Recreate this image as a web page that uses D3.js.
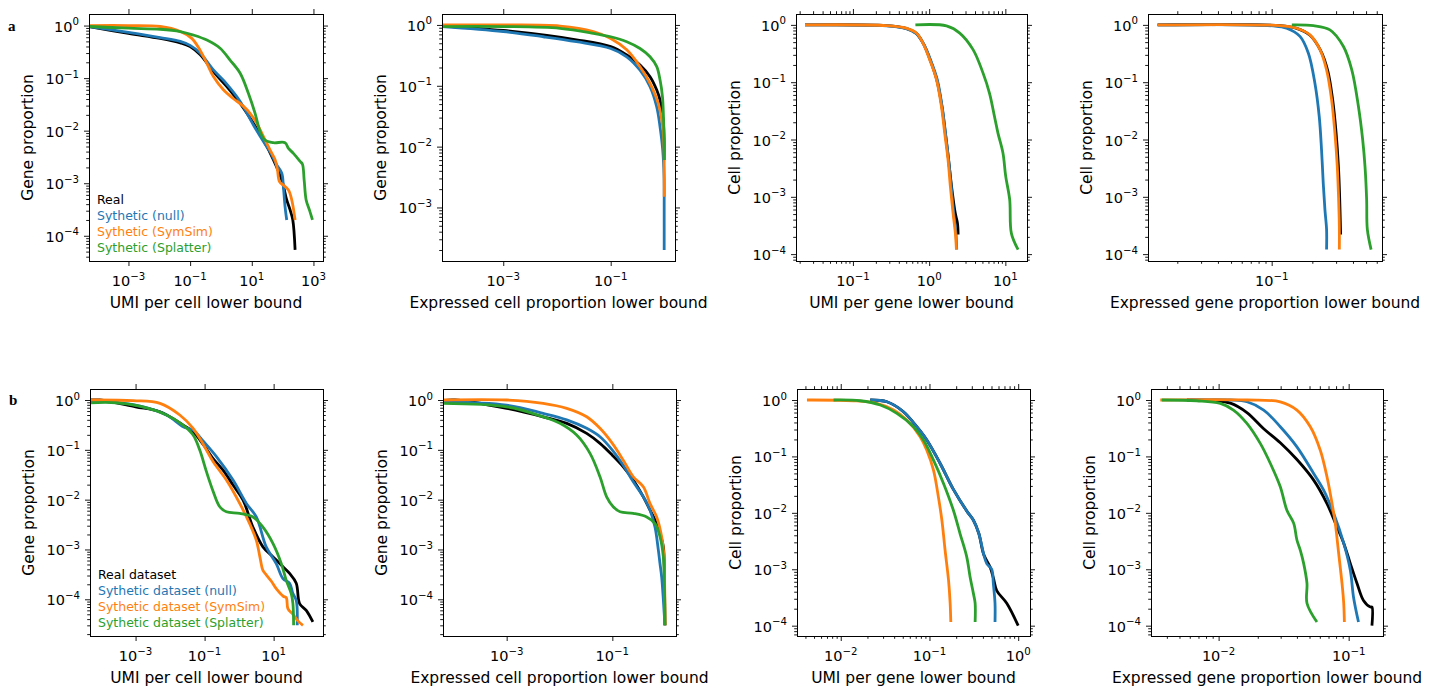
<!DOCTYPE html>
<html>
<head>
<meta charset="utf-8">
<script src="https://cdn.jsdelivr.net/npm/d3@7"></script>
<style>
body { margin: 0; background: #fff; }
text { font-family: "DejaVu Sans", sans-serif; fill: #000; }
</style>
</head>
<body>
<svg id="fig" width="1442" height="692"></svg>
<script>
const COLORS = ["#000000", "#1f77b4", "#ff7f0e", "#2ca02c"];
const legendA = ["Real", "Sythetic (null)", "Sythetic (SymSim)", "Sythetic (Splatter)"];
const legendB = ["Real dataset", "Sythetic dataset (null)", "Sythetic dataset (SymSim)", "Sythetic dataset (Splatter)"];

// row a, UMI per cell
const a1Real = [[5.2e-5,0.96],[1e-3,0.71],[0.0107,0.57],[0.048,0.47],[0.1,0.40],[0.21,0.28],[0.57,0.133],[1.55,0.069],[4.2,0.033],[11.3,0.0138],[23.9,0.0066],[50,0.0028],[94,0.00115],[136,0.00048],[175,0.00031],[214,0.0002],[254,5.4e-5]];
const a1Null = [[5.2e-5,0.96],[1e-3,0.74],[0.0107,0.59],[0.048,0.50],[0.1,0.42],[0.21,0.30],[0.57,0.143],[1.55,0.077],[4.2,0.036],[11.3,0.0128],[23.9,0.0062],[39,0.004],[65,0.0022],[94,0.00155],[106,0.00085],[120,0.00036],[136,0.0002]];
const a1SymSim = [[5.2e-5,1.0],[1e-3,1.0],[0.0107,0.96],[0.048,0.77],[0.113,0.57],[0.21,0.34],[0.35,0.19],[0.57,0.107],[1.2,0.06],[2.5,0.041],[5.4,0.029],[8.8,0.0214],[14.5,0.0138],[23.9,0.0077],[39,0.0043],[57,0.0028],[68,0.0018],[79,0.00107],[106,0.00092],[155,0.00074],[198,0.00048],[254,0.0002]];
const a1Splatter = [[5.2e-5,0.96],[1e-3,0.89],[0.0107,0.85],[0.048,0.77],[0.128,0.66],[0.35,0.53],[0.94,0.37],[1.98,0.22],[4.2,0.124],[7.8,0.051],[12.8,0.0214],[18.6,0.0096],[27,0.0066],[50,0.0059],[120,0.0059],[155,0.0046],[224,0.0037],[370,0.0026],[440,0.0023],[500,0.00115],[580,0.00048],[740,0.00031],[930,0.0002]];

// row a, expressed cell proportion
const a2Real = [[7.2e-5,0.96],[1e-3,0.81],[0.023,0.57],[0.1,0.44],[0.199,0.32],[0.352,0.22],[0.54,0.141],[0.72,0.085],[0.83,0.058],[0.89,0.04],[0.96,0.024],[0.985,0.0128],[0.99,0.006]];
const a2Null = [[7.2e-5,0.94],[1e-3,0.78],[0.0056,0.64],[0.023,0.53],[0.1,0.41],[0.199,0.30],[0.352,0.18],[0.54,0.097],[0.72,0.045],[0.83,0.021],[0.93,0.0088],[0.985,0.0032],[0.99,0.00102],[0.99,0.0002]];
const a2SymSim = [[7.2e-5,1.0],[1e-3,1.0],[0.0114,0.96],[0.0475,0.78],[0.1,0.60],[0.199,0.39],[0.352,0.206],[0.54,0.11],[0.77,0.051],[0.93,0.021],[0.985,0.0088],[0.99,0.0047],[0.99,0.0015]];
const a2Splatter = [[7.2e-5,0.94],[1e-3,0.94],[0.0114,0.88],[0.0475,0.73],[0.1,0.64],[0.199,0.53],[0.352,0.41],[0.54,0.30],[0.72,0.206],[0.83,0.124],[0.92,0.066],[0.96,0.031],[0.985,0.0128],[0.99,0.006]];

// row a, UMI per gene
const a3Real = [[0.0235,1.0],[0.276,0.97],[0.50,0.87],[0.68,0.71],[0.84,0.47],[1.03,0.245],[1.26,0.11],[1.47,0.0376],[1.63,0.0129],[1.80,0.0044],[1.97,0.0015],[2.2,0.00052],[2.35,0.00035],[2.40,0.00022]];
const a3Null = [[0.0235,1.0],[0.276,0.96],[0.50,0.86],[0.68,0.70],[0.85,0.46],[1.05,0.24],[1.28,0.11],[1.48,0.0376],[1.64,0.0129],[1.80,0.0044],[1.95,0.0015],[2.1,0.00052],[2.25,0.00023],[2.3,0.00012]];
const a3SymSim = [[0.0235,1.0],[0.276,0.97],[0.50,0.875],[0.68,0.72],[0.83,0.48],[1.02,0.245],[1.25,0.11],[1.45,0.0376],[1.60,0.0129],[1.77,0.0044],[1.90,0.0015],[2.06,0.00052],[2.21,0.00023],[2.28,0.00012]];
const a3Splatter = [[0.66,1.0],[1.69,0.96],[2.52,0.72],[3.77,0.37],[5.1,0.144],[6.2,0.064],[7.2,0.0252],[8.0,0.0129],[9.3,0.0058],[10.1,0.0023],[11.4,0.00089],[12.0,0.00023],[14.7,0.00012]];

// row a, expressed gene proportion
const a4Real = [[0.0143,1.0],[0.115,0.97],[0.153,0.87],[0.192,0.66],[0.23,0.36],[0.26,0.16],[0.283,0.049],[0.3,0.0129],[0.312,0.0034],[0.318,0.00116],[0.324,0.00022]];
const a4Null = [[0.0143,1.0],[0.103,0.96],[0.129,0.875],[0.162,0.63],[0.187,0.32],[0.209,0.096],[0.225,0.0252],[0.234,0.0066],[0.241,0.0017],[0.248,0.00059],[0.255,0.00027],[0.255,0.00012]];
const a4SymSim = [[0.0143,1.0],[0.115,0.97],[0.153,0.875],[0.192,0.67],[0.228,0.37],[0.255,0.164],[0.278,0.049],[0.294,0.0129],[0.306,0.0034],[0.312,0.00116],[0.317,0.0003],[0.317,0.00012]];
const a4Splatter = [[0.141,1.0],[0.204,0.97],[0.27,0.82],[0.34,0.42],[0.392,0.164],[0.439,0.0376],[0.472,0.0099],[0.491,0.0034],[0.505,0.00089],[0.511,0.00027],[0.545,0.00012]];

// row b, UMI per cell
const b1Real = [[4.8e-5,1.0],[9.3e-5,1.0],[1e-3,0.73],[5.1e-3,0.58],[0.0239,0.314],[0.0465,0.231],[0.0946,0.124],[0.176,0.067],[0.343,0.039],[0.667,0.0196],[1.30,0.0098],[2.52,0.0028],[4.9,0.00113],[9.6,0.00071],[18.6,0.00045],[29,0.00033],[45.2,0.00021],[56.5,8.2e-5],[88,6.0e-5],[137,3.5e-5]];
const b1Null = [[4.8e-5,0.97],[1e-3,0.79],[7.9e-3,0.50],[0.0239,0.291],[0.0465,0.249],[0.0946,0.145],[0.22,0.073],[0.667,0.0247],[1.62,0.0084],[3.15,0.0045],[6.1,0.00113],[11.9,0.00052],[18.6,0.00026],[29,0.00021],[36.2,0.00013],[45.2,9.5e-5],[48.3,3.0e-5]];
const b1SymSim = [[4.8e-5,1.0],[8.6e-4,0.97],[5.1e-3,0.857],[0.0191,0.50],[0.0465,0.27],[0.0946,0.124],[0.176,0.058],[0.428,0.0247],[1.04,0.0084],[2.02,0.0033],[3.15,0.00153],[4.0,0.00071],[4.9,0.00038],[6.1,0.00031],[8.6,0.00023],[11.9,0.000163],[19,0.000115],[23.2,0.000108],[25.9,6.5e-5],[36.2,5e-5],[52,3.6e-5],[70.5,3.0e-5]];
const b1Splatter = [[4.8e-5,0.88],[2.8e-4,0.88],[1.33e-3,0.75],[7.9e-3,0.50],[0.0239,0.314],[0.0465,0.198],[0.0724,0.099],[0.113,0.0365],[0.176,0.0148],[0.275,0.0072],[0.428,0.0057],[1.04,0.0053],[2.52,0.0045],[4.9,0.0028],[9.6,0.00131],[16.7,0.00052],[23.2,0.00024],[32.4,0.00013],[36.2,8.2e-5],[37.9,3.0e-5]];

// row b, expressed cell proportion
const b2Real = [[6.2e-5,0.97],[1.05e-4,1.0],[1e-3,0.68],[4.9e-3,0.46],[0.0137,0.34],[0.0327,0.214],[0.0584,0.135],[0.1,0.078],[0.161,0.0457],[0.249,0.0247],[0.386,0.0114],[0.516,0.0062],[0.643,0.0039],[0.798,0.0021],[0.923,0.00113],[0.96,0.00052],[0.98,8.2e-5],[0.99,3.0e-5]];
const b2Null = [[6.2e-5,0.93],[1e-3,0.79],[4.9e-3,0.54],[0.0137,0.40],[0.0327,0.27],[0.0584,0.183],[0.1,0.099],[0.161,0.049],[0.249,0.0228],[0.386,0.0114],[0.516,0.0062],[0.643,0.0028],[0.743,0.00097],[0.798,0.00052],[0.859,0.00028],[0.99,3.0e-5]];
const b2SymSim = [[6.2e-5,1.0],[1e-3,1.0],[4.9e-3,0.857],[0.0137,0.68],[0.0327,0.46],[0.0584,0.27],[0.1,0.135],[0.161,0.062],[0.249,0.0288],[0.386,0.0181],[0.516,0.0084],[0.69,0.0045],[0.859,0.0018],[0.95,0.00071],[0.98,0.000177],[1.0,3.0e-5]];
const b2Splatter = [[6.2e-5,0.857],[1e-3,0.73],[4.9e-3,0.46],[0.0102,0.34],[0.0211,0.198],[0.0378,0.085],[0.0584,0.0288],[0.078,0.0114],[0.104,0.0072],[0.14,0.0057],[0.249,0.0053],[0.447,0.0045],[0.643,0.0033],[0.798,0.0018],[0.923,0.00071],[0.964,0.00021],[0.993,3.0e-5]];

// row b, UMI per gene
const b3Real = [[0.0215,1.0],[0.0331,0.93],[0.0509,0.62],[0.0719,0.336],[0.0933,0.195],[0.132,0.075],[0.186,0.026],[0.263,0.0108],[0.313,0.0074],[0.36,0.0043],[0.41,0.0018],[0.482,0.0011],[0.525,0.0007],[0.573,0.00042],[0.743,0.00025],[1.0,0.0001]];
const b3Null = [[0.0215,1.0],[0.0331,0.93],[0.0509,0.62],[0.0719,0.336],[0.0933,0.195],[0.132,0.075],[0.186,0.026],[0.263,0.0108],[0.313,0.0074],[0.36,0.0043],[0.41,0.0018],[0.442,0.00126],[0.503,0.001],[0.525,0.00055],[0.548,0.00025],[0.548,0.000116]];
const b3SymSim = [[0.00416,1.0],[0.0139,0.97],[0.0255,0.873],[0.0394,0.664],[0.0556,0.44],[0.0785,0.223],[0.0933,0.129],[0.111,0.0572],[0.126,0.0192],[0.138,0.0074],[0.15,0.00217],[0.164,0.00064],[0.171,0.00025],[0.174,0.000116]];
const b3Splatter = [[0.0083,1.0],[0.0166,0.97],[0.0279,0.815],[0.0429,0.58],[0.066,0.336],[0.0856,0.195],[0.111,0.086],[0.144,0.0332],[0.186,0.0111],[0.221,0.0043],[0.263,0.00166],[0.287,0.00073],[0.313,0.00037],[0.327,0.00025],[0.327,0.000116]];

// row b, expressed gene proportion
const b4Real = [[0.0057,1.0],[0.00916,0.97],[0.0123,0.88],[0.0165,0.6],[0.0222,0.31],[0.0298,0.175],[0.040,0.088],[0.0538,0.038],[0.0681,0.0146],[0.0813,0.0056],[0.0916,0.0029],[0.103,0.00126],[0.116,0.00056],[0.13,0.00028],[0.147,0.000214],[0.151,0.000214],[0.151,0.0001]];
const b4Null = [[0.00605,1.0],[0.0123,1.0],[0.0165,0.93],[0.0222,0.664],[0.0298,0.336],[0.040,0.148],[0.0538,0.0499],[0.0642,0.0253],[0.0767,0.0097],[0.0916,0.0029],[0.103,0.00096],[0.109,0.00032],[0.119,0.000116]];
const b4SymSim = [[0.00356,1.0],[0.0165,1.0],[0.0298,0.93],[0.040,0.664],[0.0507,0.336],[0.0605,0.129],[0.0681,0.0436],[0.0745,0.0146],[0.0789,0.0065],[0.0838,0.0019],[0.0889,0.00056],[0.0916,0.00025],[0.0927,0.000116]];
const b4Splatter = [[0.00366,1.0],[0.0068,0.97],[0.0103,0.873],[0.013,0.664],[0.0165,0.385],[0.0209,0.17],[0.025,0.075],[0.0298,0.029],[0.0335,0.0111],[0.0378,0.0065],[0.040,0.0033],[0.0425,0.00217],[0.0451,0.00126],[0.0478,0.00056],[0.0478,0.00025],[0.057,0.000116]];

// tick labels
const xTicksWide = [1e-3, 1e-1, 1e1, 1e3];
const xTicksProp = [1e-3, 1e-1];
const xTicksA3 = [1e-1, 1e0, 1e1];
const xTicksA4 = [1e-1];
const xTicksB3 = [1e-2, 1e-1, 1e0];
const xTicksB4 = [1e-2, 1e-1];
const yTicks4 = [1e0, 1e-1, 1e-2, 1e-3, 1e-4];
const yTicks3 = [1e0, 1e-1, 1e-2, 1e-3];

const panels = [
    { box: [89, 14, 234, 247], xDomain: [10 ** -4.28, 10 ** 3.31], yDomain: [10 ** -4.48, 10 ** 0.22],
      xMajor: xTicksWide, xMinor: false, yMajor: yTicks4, xLabel: "UMI per cell lower bound", yLabel: "Gene proportion",
      series: [a1Real, a1Null, a1SymSim, a1Splatter], legend: legendA },
    { box: [442, 14, 233, 247], xDomain: [10 ** -4.14, 10 ** 0.197], yDomain: [10 ** -3.88, 10 ** 0.18],
      xMajor: xTicksProp, xMinor: false, yMajor: yTicks3, xLabel: "Expressed cell proportion lower bound", yLabel: "Gene proportion",
      series: [a2Real, a2Null, a2SymSim, a2Splatter] },
    { box: [796, 14, 231, 247], xDomain: [10 ** -1.747, 10 ** 1.284], yDomain: [10 ** -4.12, 10 ** 0.19],
      xMajor: xTicksA3, xMinor: true, yMajor: yTicks4, xLabel: "UMI per gene lower bound", yLabel: "Cell proportion",
      series: [a3Real, a3Null, a3SymSim, a3Splatter] },
    { box: [1148, 14, 234, 247], xDomain: [10 ** -1.916, 10 ** -0.183], yDomain: [10 ** -4.12, 10 ** 0.19],
      xMajor: xTicksA4, xMinor: true, yMajor: yTicks4, xLabel: "Expressed gene proportion lower bound", yLabel: "Cell proportion",
      series: [a4Real, a4Null, a4SymSim, a4Splatter] },
    { box: [90, 389, 233, 247], xDomain: [10 ** -4.32, 10 ** 2.43], yDomain: [10 ** -4.737, 10 ** 0.221],
      xMajor: xTicksWide.slice(0, 3), xMinor: false, yMajor: yTicks4, xLabel: "UMI per cell lower bound", yLabel: "Gene proportion",
      series: [b1Real, b1Null, b1SymSim, b1Splatter], legend: legendB },
    { box: [443, 389, 233, 247], xDomain: [10 ** -4.205, 10 ** 0.205], yDomain: [10 ** -4.737, 10 ** 0.221],
      xMajor: xTicksProp, xMinor: false, yMajor: yTicks4, xLabel: "Expressed cell proportion lower bound", yLabel: "Gene proportion",
      series: [b2Real, b2Null, b2SymSim, b2Splatter] },
    { box: [797, 389, 233, 247], xDomain: [10 ** -2.493, 10 ** 0.133], yDomain: [10 ** -4.183, 10 ** 0.195],
      xMajor: xTicksB3, xMinor: true, yMajor: yTicks4, xLabel: "UMI per gene lower bound", yLabel: "Cell proportion",
      series: [b3Real, b3Null, b3SymSim, b3Splatter] },
    { box: [1151, 389, 232, 247], xDomain: [10 ** -2.52, 10 ** -0.736], yDomain: [10 ** -4.183, 10 ** 0.195],
      xMajor: xTicksB4, xMinor: true, yMajor: yTicks4, xLabel: "Expressed gene proportion lower bound", yLabel: "Cell proportion",
      series: [b4Real, b4Null, b4SymSim, b4Splatter] }
];

const svg = d3.select("#fig");

function minorTicks(domain) {
    const out = [];
    const lo = Math.floor(Math.log10(domain[0])), hi = Math.ceil(Math.log10(domain[1]));
    for (let e = lo; e <= hi; e++) {
        for (let m = 2; m <= 9; m++) {
            const v = m * 10 ** e;
            if (v >= domain[0] && v <= domain[1]) out.push(v);
        }
    }
    return out;
}

function powerLabel(sel, v, small) {
    const e = Math.round(Math.log10(v));
    sel.append("tspan").text("10");
    sel.append("tspan").attr("dy", -6.5).attr("font-size", small)
        .text(e < 0 ? "\u2212" + (-e) : String(e));
}

function tickGroup(g, axis, transform, values, size) {
    const t = g.append("g")
        .attr("transform", transform)
        .call(axis.tickValues(values).tickSize(size).tickSizeOuter(0).tickFormat(""));
    t.select(".domain").remove();
    t.selectAll("line").attr("stroke", "#000").attr("stroke-width", 0.9);
}

panels.forEach((p, i) => {
    const [left, top, w, h] = p.box;
    const g = svg.append("g").attr("transform", `translate(${left},${top})`);

    const x = d3.scaleLog().domain(p.xDomain).range([0, w]);
    const y = d3.scaleLog().domain(p.yDomain).range([h, 0]);

    g.append("clipPath").attr("id", "clip" + i)
        .append("rect").attr("width", w).attr("height", h);

    // smooth through the read-off points, like the dense step data in the original
    const line = d3.line()
        .curve(d3.curveCatmullRom.alpha(0.5))
        .x(d => x(d[0]))
        .y(d => y(d[1]));

    p.series.forEach((s, k) => {
        g.append("path")
            .datum(s)
            .attr("clip-path", `url(#clip${i})`)
            .attr("fill", "none")
            .attr("stroke", COLORS[k])
            .attr("stroke-width", 2.8)
            .attr("stroke-linejoin", "round")
            .attr("d", line);
    });

    const xMin = p.xMinor ? minorTicks(p.xDomain) : [];
    const yMin = minorTicks(p.yDomain);

    tickGroup(g, d3.axisBottom(x), `translate(0,${h})`, p.xMajor, 5);
    tickGroup(g, d3.axisBottom(x), `translate(0,${h})`, xMin, 2.8);
    tickGroup(g, d3.axisTop(x), null, p.xMajor, 5);
    tickGroup(g, d3.axisTop(x), null, xMin, 2.8);
    tickGroup(g, d3.axisLeft(y), null, p.yMajor, 5);
    tickGroup(g, d3.axisLeft(y), null, yMin, 2.8);
    tickGroup(g, d3.axisRight(y), `translate(${w},0)`, p.yMajor, 5);
    tickGroup(g, d3.axisRight(y), `translate(${w},0)`, yMin, 2.8);

    g.append("rect")
        .attr("x", 0.5).attr("y", 0.5)
        .attr("width", w).attr("height", h)
        .attr("fill", "none")
        .attr("stroke", "#000")
        .attr("stroke-width", 1);

    g.selectAll(".xlab")
        .data(p.xMajor)
        .join("text")
        .attr("x", d => x(d))
        .attr("y", h + 25)
        .attr("text-anchor", "middle")
        .attr("font-size", 14.5)
        .each(function (d) { powerLabel(d3.select(this), d, 10.2); });

    g.selectAll(".ylab")
        .data(p.yMajor)
        .join("text")
        .attr("x", -10)
        .attr("y", d => y(d) + 6)
        .attr("text-anchor", "end")
        .attr("font-size", 14.5)
        .each(function (d) { powerLabel(d3.select(this), d, 10.2); });

    g.append("text")
        .attr("x", w / 2)
        .attr("y", h + 47)
        .attr("text-anchor", "middle")
        .attr("font-size", 15.5)
        .text(p.xLabel);

    g.append("text")
        .attr("transform", `translate(-56.5,${h / 2}) rotate(-90)`)
        .attr("text-anchor", "middle")
        .attr("font-size", 15.5)
        .text(p.yLabel);

    if (p.legend) {
        g.selectAll(".leg")
            .data(p.legend)
            .join("text")
            .attr("x", 8)
            .attr("y", (d, k) => 190 + k * 16)
            .attr("font-size", 12.5)
            .style("fill", (d, k) => COLORS[k])
            .text(d => d);
    }
});

svg.append("text").attr("x", 8).attr("y", 30.5)
    .style("font-family", "'Liberation Serif', serif").attr("font-weight", "bold").attr("font-size", 15)
    .text("a");
svg.append("text").attr("x", 9).attr("y", 405)
    .style("font-family", "'Liberation Serif', serif").attr("font-weight", "bold").attr("font-size", 15)
    .text("b");
</script>
</body>
</html>
